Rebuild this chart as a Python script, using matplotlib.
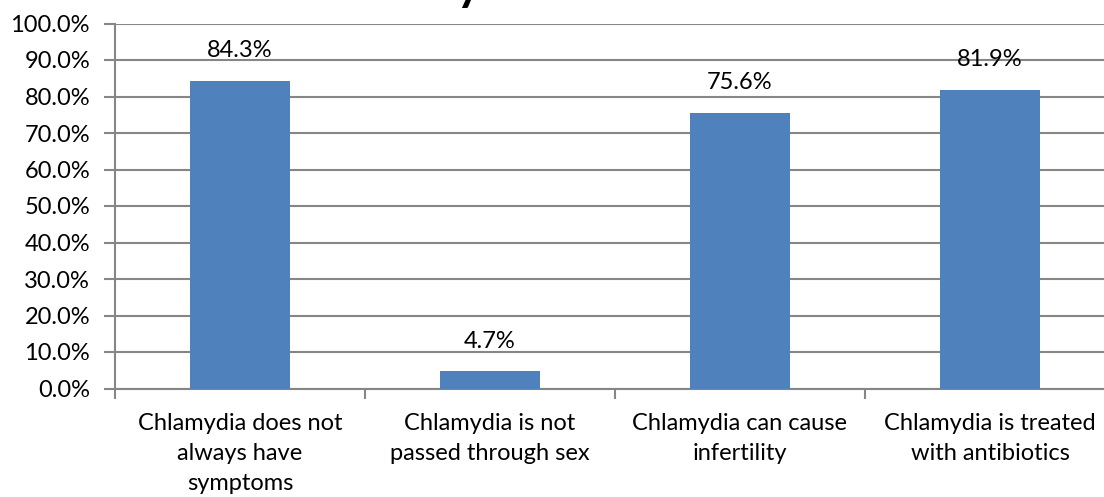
import numpy as np
import matplotlib.pyplot as plt
from matplotlib.ticker import FixedLocator, PercentFormatter

categories = ['Chlamydia does not\nalways have\nsymptoms',
              'Chlamydia is not\npassed through sex',
              'Chlamydia can cause\ninfertility',
              'Chlamydia is treated\nwith antibiotics']
values = [84.3, 4.7, 75.6, 81.9]
yticks = [0, 10, 20, 30, 40, 50, 60, 70, 80, 90, 100]

plt.rcParams['font.family'] = ['Lato', 'DejaVu Sans']
grey = '#868686'
fs = 17

fig = plt.figure(figsize=(11.04, 4.97), dpi=100)
ax = fig.add_axes([115/1104, (497-388.5)/497, 1000/1104, 365/497])

x = np.arange(len(values))
ax.bar(x, values, width=0.4, color='#4F81BD', zorder=3)
for xi, v in zip(x, values):
    ax.annotate(f'{v:.1f}%', (xi, v), xytext=(0, 14), textcoords='offset points',
                ha='center', va='bottom', fontsize=fs)

ax.set_xlim(-0.5, len(values) - 0.5)
ax.set_ylim(0, 100)
ax.set_yticks(yticks)
ax.yaxis.set_major_formatter(PercentFormatter(decimals=1))
ax.set_xticks(x)
ax.set_xticklabels(categories, fontsize=fs, linespacing=1.5)
ax.xaxis.set_minor_locator(FixedLocator(np.arange(len(values) + 1) - 0.5))
ax.tick_params(axis='x', which='major', length=0, pad=18)
ax.tick_params(axis='x', which='minor', length=7, width=1.5, color=grey)
ax.tick_params(axis='y', length=8, width=1.5, color=grey, labelsize=fs, pad=10)
ax.grid(axis='y', color=grey, linewidth=1.5, zorder=0)
for s in ['top', 'right']:
    ax.spines[s].set_visible(False)
for s in ['left', 'bottom']:
    ax.spines[s].set_color(grey)
    ax.spines[s].set_linewidth(1.5)

# title mostly cropped off the top of the image
fig.text(434/1104, 1.0, 'Chlamydia', fontsize=34, fontweight='bold',
         ha='center', va='baseline')

fig.savefig('out.png', dpi=100)
